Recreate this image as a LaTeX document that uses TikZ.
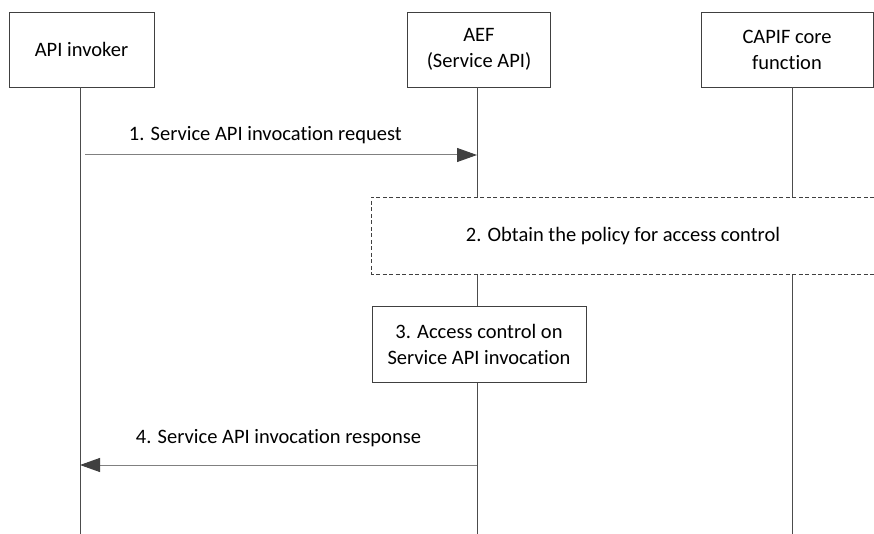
\documentclass[tikz,border=0pt]{standalone}
\usepackage{fontspec}
\setmainfont[Ligatures=NoCommon]{Carlito}
\usetikzlibrary{arrows.meta,positioning}

\begin{document}
\begin{tikzpicture}[x=1pt,y=-1pt,
      entity/.style={
         draw=black!75,
         fill=white,
         line width=0.9pt,
         align=center,
         inner sep=0pt,
         minimum height=75pt,
         font=\fontsize{20.5}{26}\selectfont},
      stepbox/.style={
         entity,
         minimum height=76pt},
      dashbox/.style={
         draw=black!75,
         fill=white,
         line width=0.8pt,
         dash pattern=on 4pt off 2.5pt},
      lifeline/.style={draw=black!70, line width=0.9pt},
      myarrow/.style={
         draw=black!50,
         line width=1pt,
         -{Triangle[length=20pt,width=14pt,color=black!75,fill=black!75]}},
      msglabel/.style={font=\fontsize{20.5}{26}\selectfont, inner sep=0pt}
      ]
      \useasboundingbox (0,0) rectangle (874,534);

      % participants
      \node[entity, minimum width=145pt] (inv) at (81.5,49.5) {API invoker};
      \node[entity, minimum width=143pt] (aef) at (479,49.5) {AEF\\(Service API)};
      \node[entity, minimum width=172pt] (capif) at (787,49.5) {CAPIF core\\function};

      % lifelines (not quite centred under the boxes)
      \coordinate (invtop) at ([xshift=-1.5pt]inv.south);
      \coordinate (aeftop) at ([xshift=-2pt]aef.south);
      \coordinate (capiftop) at ([xshift=5pt]capif.south);

    \foreach \i in {inv, aef, capif}
       \draw [lifeline] (\i top) -- (\i top |- 0,534);

      % 2. dashed box, open on the right
      \draw [dashbox] (874,197) -| (371,274) -- (874,274);
      \node[msglabel] (obtain) at (623,236) {2. Obtain the policy for access control};

      % 3. local step on the AEF
      \node[stepbox, minimum width=214pt] (access) at (479,344) {3. Access control on\\Service API invocation};

      % messages
      \coordinate (req0) at (invtop |- 0,155);
      \coordinate (req1) at ([xshift=5pt]req0);
      \coordinate (req2) at (aeftop |- 0,155);
      \coordinate (rsp1) at (aeftop |- 0,465);
      \coordinate (rsp2) at (invtop |- 0,465);

      \draw [myarrow] (req1) -- node[msglabel, pos=0.46, above=11pt] (msg1) {1. Service API invocation request} (req2);
      \draw [myarrow] (rsp1) -- node[msglabel, above=18pt] (msg4) {4. Service API invocation response} (rsp2);
    \end{tikzpicture}
\end{document}
